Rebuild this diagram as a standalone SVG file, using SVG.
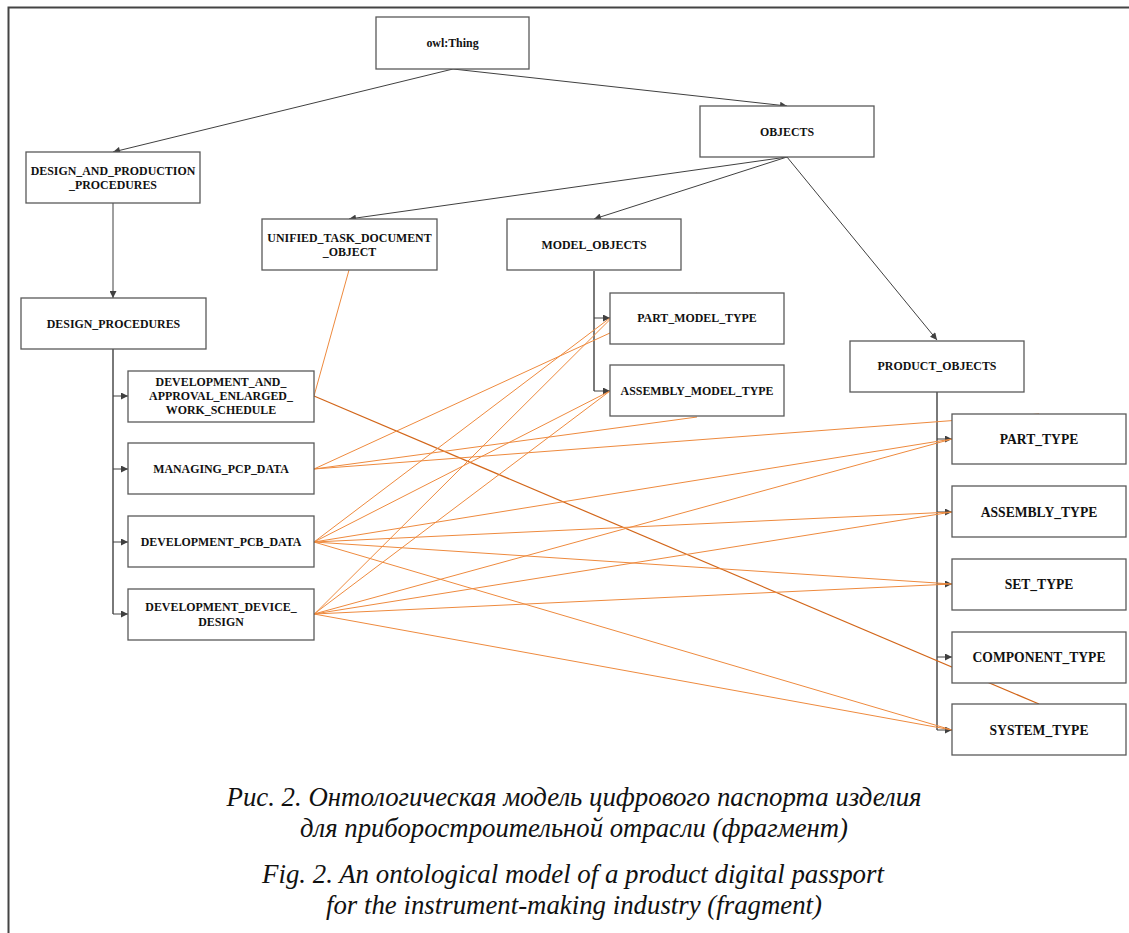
<svg xmlns="http://www.w3.org/2000/svg" width="1129" height="933" viewBox="0 0 1129 933">
<defs>
<marker id="ah" viewBox="0 0 10 10" refX="10" refY="5" markerWidth="8" markerHeight="7" markerUnits="userSpaceOnUse" orient="auto">
<path d="M0,0 L10,5 L0,10 z" fill="#404040"/>
</marker>
</defs>
<style>
.box{fill:#fff;stroke:#595959;stroke-width:1.3}
.t{font-family:"Liberation Serif","Times New Roman",serif;font-weight:bold;font-size:11.9px;fill:#111;text-anchor:middle}
.tb{font-size:13.6px}
.c{stroke:#404040;stroke-width:1;fill:none}
.v{stroke:#404040;stroke-width:1.4;fill:none}
.o{stroke:#EE8A3E;stroke-width:1;fill:none}
.od{stroke:#D2661A;stroke-width:1.2;fill:none}
.cap{font-family:"Liberation Serif","Times New Roman",serif;font-style:italic;font-size:27px;fill:#111;text-anchor:middle}
</style>
<rect width="1129" height="933" fill="#fff"/>
<g id="frame">
<path d="M8.5,933 V7.5 H1129" fill="none" stroke="#444" stroke-width="2"/>
</g>
<g id="connectors">
<path class="c" d="M453,69 L113,152" marker-end="url(#ah)"/>
<path class="c" d="M453,69 L787,106" marker-end="url(#ah)"/>
<path class="c" d="M787,157 L349,219" marker-end="url(#ah)"/>
<path class="c" d="M787,157 L594,219" marker-end="url(#ah)"/>
<path class="c" d="M787,157 L937,340" marker-end="url(#ah)"/>
<path class="c" d="M113,203 L113,298" marker-end="url(#ah)"/>
<path class="v" d="M113,349 V614"/>
<path class="c" d="M113,396 H128" marker-end="url(#ah)"/>
<path class="c" d="M113,469 H128" marker-end="url(#ah)"/>
<path class="c" d="M113,542 H128" marker-end="url(#ah)"/>
<path class="c" d="M113,614 H128" marker-end="url(#ah)"/>
<path class="v" d="M594,271 V391"/>
<path class="c" d="M594,318 H610" marker-end="url(#ah)"/>
<path class="c" d="M594,391 H610" marker-end="url(#ah)"/>
<path class="v" d="M937,392 V730"/>
<path class="c" d="M937,439 H952" marker-end="url(#ah)"/>
<path class="c" d="M937,512 H952" marker-end="url(#ah)"/>
<path class="c" d="M937,584 H952" marker-end="url(#ah)"/>
<path class="c" d="M937,657 H952" marker-end="url(#ah)"/>
<path class="c" d="M937,730 H952" marker-end="url(#ah)"/>
<path class="o" d="M349,270 L314,396"/>
<path class="od" d="M314,396 L1039,704"/>
<path class="o" d="M314,469 L697,293"/>
<path class="o" d="M314,469 L697,417"/>
<path class="o" d="M314,469 L1039,414"/>
<path class="o" d="M314,542 L610,318"/>
<path class="o" d="M314,542 L610,391"/>
<path class="o" d="M314,542 L952,439"/>
<path class="o" d="M314,542 L952,512"/>
<path class="o" d="M314,542 L952,584"/>
<path class="o" d="M314,542 L952,730"/>
<path class="o" d="M314,614.5 L610,319.5"/>
<path class="o" d="M314,614 L610,391"/>
<path class="o" d="M314,614 L952,439"/>
<path class="o" d="M314,614 L952,512"/>
<path class="o" d="M314,614 L952,584"/>
<path class="o" d="M314,614 L952,730"/>
</g>
<g id="n-owl"><rect class="box" x="376" y="17" width="153" height="52"/><text class="t" x="452.5" y="47">owl:Thing</text></g>
<g id="n-objects"><rect class="box" x="700" y="106" width="174" height="51"/><text class="t" x="787" y="135.5">OBJECTS</text></g>
<g id="n-dap"><rect class="box" x="26" y="152" width="174" height="51"/><text class="t" x="113" y="175">DESIGN_AND_PRODUCTION</text><text class="t" x="113" y="189">_PROCEDURES</text></g>
<g id="n-unified"><rect class="box" x="262" y="219" width="175" height="51"/><text class="t" x="349.5" y="242">UNIFIED_TASK_DOCUMENT</text><text class="t" x="349.5" y="256">_OBJECT</text></g>
<g id="n-model"><rect class="box" x="507" y="219" width="174" height="51"/><text class="t" x="594" y="249">MODEL_OBJECTS</text></g>
<g id="n-partmodel"><rect class="box" x="610" y="293" width="174" height="51"/><text class="t" x="697" y="322">PART_MODEL_TYPE</text></g>
<g id="n-asmmodel"><rect class="box" x="610" y="365" width="174" height="51"/><text class="t" x="697" y="395">ASSEMBLY_MODEL_TYPE</text></g>
<g id="n-dp"><rect class="box" x="21" y="298" width="185" height="51"/><text class="t" x="113.5" y="327.5">DESIGN_PROCEDURES</text></g>
<g id="n-daa"><rect class="box" x="128" y="371" width="186" height="51"/><text class="t" x="221" y="386">DEVELOPMENT_AND_</text><text class="t" x="221" y="400">APPROVAL_ENLARGED_</text><text class="t" x="221" y="414">WORK_SCHEDULE</text></g>
<g id="n-managing"><rect class="box" x="128" y="443" width="186" height="51"/><text class="t" x="221" y="473">MANAGING_PCP_DATA</text></g>
<g id="n-pcb"><rect class="box" x="128" y="516" width="186" height="51"/><text class="t" x="221" y="546">DEVELOPMENT_PCB_DATA</text></g>
<g id="n-device"><rect class="box" x="128" y="589" width="186" height="51"/><text class="t" x="221" y="611">DEVELOPMENT_DEVICE_</text><text class="t" x="221" y="626">DESIGN</text></g>
<g id="n-product"><rect class="box" x="850" y="341" width="174" height="51"/><text class="t" x="937" y="370">PRODUCT_OBJECTS</text></g>
<g id="n-part"><rect class="box" x="952" y="414" width="174" height="50"/><text class="t tb" x="1039" y="444">PART_TYPE</text></g>
<g id="n-assembly"><rect class="box" x="952" y="486" width="174" height="51"/><text class="t tb" x="1039" y="517">ASSEMBLY_TYPE</text></g>
<g id="n-set"><rect class="box" x="952" y="559" width="174" height="51"/><text class="t tb" x="1039" y="589">SET_TYPE</text></g>
<g id="n-component"><rect class="box" x="952" y="632" width="174" height="51"/><text class="t tb" x="1039" y="662">COMPONENT_TYPE</text></g>
<g id="n-system"><rect class="box" x="952" y="704" width="174" height="51"/><text class="t tb" x="1039" y="735">SYSTEM_TYPE</text></g>
<g id="caption">
<text class="cap" x="574" y="806" textLength="695" lengthAdjust="spacingAndGlyphs">Рис. 2. Онтологическая модель цифрового паспорта изделия</text>
<text class="cap" x="574" y="837" textLength="548" lengthAdjust="spacingAndGlyphs">для приборостроительной отрасли (фрагмент)</text>
<text class="cap" x="573" y="883" textLength="622" lengthAdjust="spacingAndGlyphs">Fig. 2. An ontological model of a product digital passport</text>
<text class="cap" x="574" y="914" textLength="496" lengthAdjust="spacingAndGlyphs">for the instrument-making industry (fragment)</text>
</g>
</svg>
